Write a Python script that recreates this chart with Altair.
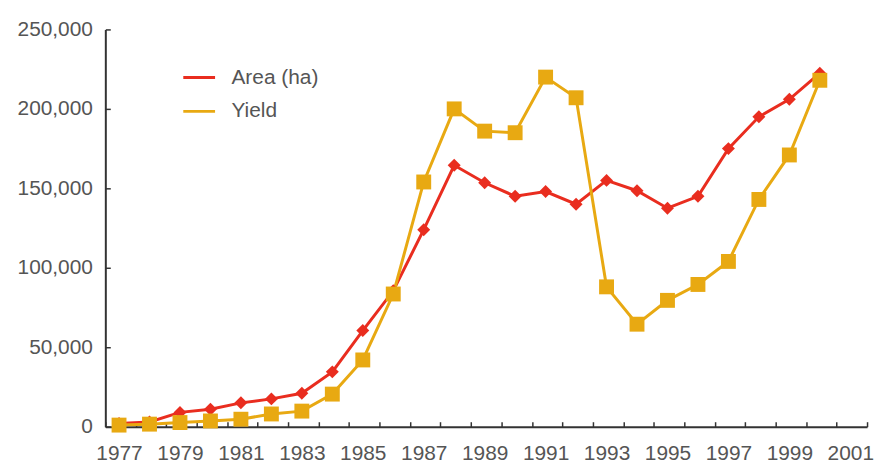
import altair as alt
import pandas as pd

# ---- data ----
years = list(range(1977, 2001))
area_ha = [2000, 3000, 9000, 11000, 15000, 17500, 21000, 34500, 60500, 85500,
           124000, 164500, 153500, 145000, 148000, 140000, 155000, 148500,
           137500, 145000, 175000, 195000, 206000, 222500]
yield_vals = [1000, 1600, 2600, 3600, 4700, 8000, 9800, 20500, 42000, 83500,
              154000, 200000, 186000, 185000, 220000, 207000, 88000, 64500,
              79500, 89500, 104000, 143000, 171000, 218000]
series_names = ["Area (ha)", "Yield"]
series_colors = ["#E92D1F", "#E8A912"]
x_label_years = list(range(1977, 2002, 2))
x_tick_edges = [1976.55 + k for k in range(26)]
y_ticks = [0, 50000, 100000, 150000, 200000, 250000]

df = pd.DataFrame({
    "year": years + years,
    "value": area_ha + yield_vals,
    "series": [series_names[0]] * len(years) + [series_names[1]] * len(years),
})

FONT = "Liberation Sans"
TEXT = "#555555"
AXIS_C = "#333333"

x_scale = alt.Scale(domain=[x_tick_edges[0], x_tick_edges[-1]], nice=False, zero=False)
y_scale = alt.Scale(domain=[0, 250000], nice=False)

is_label = "abs(datum.value - round(datum.value)) < 0.01"
x_axis = alt.Axis(values=sorted(x_tick_edges + x_label_years),
                  labelExpr=is_label + " ? format(datum.value, 'd') : ''",
                  ticks=True, tickSize={"expr": "-5"}, tickWidth=1.5, tickColor=AXIS_C,
                  tickOpacity={"condition": {"test": is_label, "value": 0}, "value": 1},
                  grid=False, domainColor=AXIS_C, domainWidth=2, labelFont=FONT,
                  labelFontSize=21, labelColor=TEXT, labelPadding=21,
                  labelFlush=False, labelOverlap=False, title=None)
y_axis = alt.Axis(values=y_ticks, format=",d",
                  ticks=True, tickSize={"expr": "-5"}, tickWidth=1.5, tickColor=AXIS_C,
                  grid=False, domainColor=AXIS_C, domainWidth=2, labelFont=FONT,
                  labelFontSize=21, labelColor=TEXT, labelPadding=18,
                  labelFlush=False, labelOverlap=False, title=None)

X = alt.X("year:Q", scale=x_scale, axis=x_axis)
Y = alt.Y("value:Q", scale=y_scale, axis=y_axis)
color_scale = alt.Scale(domain=series_names, range=series_colors)

leg = alt.Legend(orient="none", legendX=77, legendY=31, title=None,
                 labelFont=FONT, labelFontSize=21, labelColor=TEXT,
                 symbolSize=1024, symbolStrokeWidth=3,
                 padding=0, rowPadding=6, labelOffset=15)

lines = alt.Chart(df).mark_line(strokeWidth=3).encode(
    x=X, y=Y, color=alt.Color("series:N", scale=color_scale, legend=leg))

C = alt.Color("series:N", scale=color_scale, legend=None)
diamond_path = "M-0.87,0L0,-0.87L0.87,0L0,0.87Z"
pts_area = alt.Chart(df).transform_filter(
    alt.datum.series == series_names[0]
).mark_point(shape=diamond_path, filled=True, size=225, opacity=1).encode(x=X, y=Y, color=C)
pts_yield = alt.Chart(df).transform_filter(
    alt.datum.series == series_names[1]
).mark_point(shape="square", filled=True, size=225, opacity=1).encode(x=X, y=Y, color=C)

chart = alt.layer(lines, pts_area, pts_yield).properties(
    width=767, height=400,
    padding={"left": 9, "top": 9, "right": 0, "bottom": 0},
).configure_view(stroke=None)

chart.save("out.html", embed_options={"renderer": "svg", "actions": False})
